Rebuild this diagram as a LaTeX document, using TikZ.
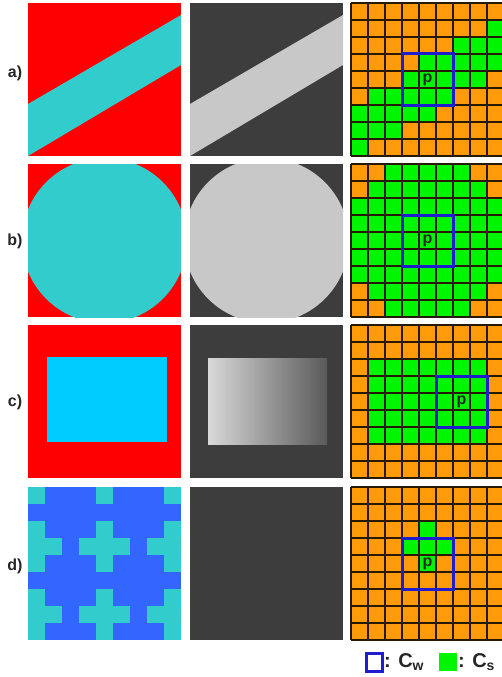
\documentclass[tikz,border=0pt]{standalone}
\usepackage{fontspec}
\setmainfont{Liberation Sans}
\definecolor{rouge}{RGB}{255,0,0}
\definecolor{turq}{RGB}{51,204,204}
\definecolor{ciel}{RGB}{0,204,255}
\definecolor{sombre}{RGB}{61,61,61}
\definecolor{clair}{RGB}{200,200,200}
\definecolor{orangec}{RGB}{255,155,10}
\definecolor{vert}{RGB}{0,245,0}
\definecolor{bleu}{RGB}{30,30,205}
\definecolor{roi}{RGB}{51,102,255}
\definecolor{brun}{RGB}{40,25,5}
\usepackage{tikz}
\usetikzlibrary{positioning}

\tikzset{
  trait/.style={brun,line width=1.3pt},
  cadre/.style={bleu,line width=3pt},
  lettre/.style={font=\fontsize{16}{18}\selectfont\bfseries,text=black!85},
}
% grille 9x9 de la colonne de droite, coin haut-gauche (351,#1)
\newcommand{\grille}[1]{%
  \foreach \i in {0,...,9}{%
    \draw[trait] (351+17*\i,#1) -- ++(0,153);
    \draw[trait] (351,#1+17*\i) -- ++(153,0);
  }}

\begin{document}
\begin{tikzpicture}[x=1pt,y=-1pt,font=\sffamily]
\useasboundingbox (0,0) rectangle (502,677);
\clip (0,0) rectangle (502,677);

% a)
\fill[rouge] (28,3) rectangle ++(153,153);
\fill[turq] (28,104) -- (181,15) -- (181,65) -- (28,156) -- cycle;
\fill[sombre] (190,3) rectangle ++(153,153);
\fill[clair] (190,104) -- (343,15) -- (343,65) -- (190,156) -- cycle;
\fill[orangec] (351,3) rectangle ++(153,153);
\foreach \c/\r in {8/1,6/2,7/2,8/2,4/3,5/3,6/3,7/3,8/3,3/4,4/4,5/4,6/4,7/4,
  1/5,2/5,3/5,4/5,5/5,0/6,1/6,2/6,3/6,4/6,0/7,1/7,2/7,0/8}
  \fill[vert] (351+17*\c,3+17*\r) rectangle ++(17,17);
\grille{3}
\draw[cadre] (402,54) rectangle ++(51,51);
\node[lettre] (pa) at (427.5,79.5) {p};
\node[lettre] (la) at (15,73) {a)};

% b)
\begin{scope}
  \clip (28,164) rectangle ++(153,153);
  \fill[rouge] (28,164) rectangle ++(153,153);
  \fill[turq] (104.5,240.5) circle[radius=82.5pt];
\end{scope}
\begin{scope}
  \clip (190,164) rectangle ++(153,153);
  \fill[sombre] (190,164) rectangle ++(153,153);
  \fill[clair] (266.5,240.5) circle[radius=82.5pt];
\end{scope}
\fill[orangec] (351,164) rectangle ++(153,153);
\fill[vert] (351,198) rectangle ++(153,85);
\fill[vert] (368,181) rectangle ++(119,119);
\fill[vert] (385,164) rectangle ++(85,153);
\grille{164}
\draw[cadre] (402,215) rectangle ++(51,51);
\node[lettre] (pb) at (427.5,240.5) {p};
\node[lettre] (lb) at (15,241) {b)};

% c)
\fill[rouge] (28,325) rectangle ++(153,153);
\fill[ciel] (47,357) rectangle (167,442);
\fill[sombre] (190,325) rectangle ++(153,153);
\shade[left color=gray!30!white,right color=black!65] (208,358) rectangle (327,444);
\fill[orangec] (351,325) rectangle ++(153,153);
\fill[vert] (368,359) rectangle ++(119,85);
\grille{325}
\draw[cadre] (436,376) rectangle ++(51,51);
\node[lettre] (pc) at (461.5,401.5) {p};
\node[lettre] (lc) at (15,402) {c)};

% d)
\begin{scope}
  \clip (28,487) rectangle ++(153,153);
  \fill[roi] (28,487) rectangle ++(153,153);
  \foreach \cx in {0,4,8}
    \foreach \cy in {-1,3,7}{
      \fill[turq] (28+17*\cx-17,487+17*\cy) rectangle ++(51,17);
      \fill[turq] (28+17*\cx,487+17*\cy-17) rectangle ++(17,51);
    }
\end{scope}
\fill[sombre] (190,487) rectangle ++(153,153);
\fill[orangec] (351,487) rectangle ++(153,153);
\fill[vert] (402,538) rectangle ++(51,17);
\fill[vert] (419,521) rectangle ++(17,51);
\grille{487}
\draw[cadre] (402,538) rectangle ++(51,51);
\node[lettre] (pd) at (427.5,563.5) {p};
\node[lettre] (ld) at (15,566) {d)};

% legende
\draw[cadre] (366,653) rectangle (382,671);
\node[right,font=\fontsize{20}{22}\selectfont\bfseries,text=black!85,inner sep=1pt] (lw) at (383,662) {: C\textsubscript{w}};
\fill[vert] (439,653) rectangle (457,671);
\node[right,font=\fontsize{20}{22}\selectfont\bfseries,text=black!85,inner sep=1pt] (ls) at (457,662) {: C\textsubscript{s}};
\end{tikzpicture}
\end{document}
